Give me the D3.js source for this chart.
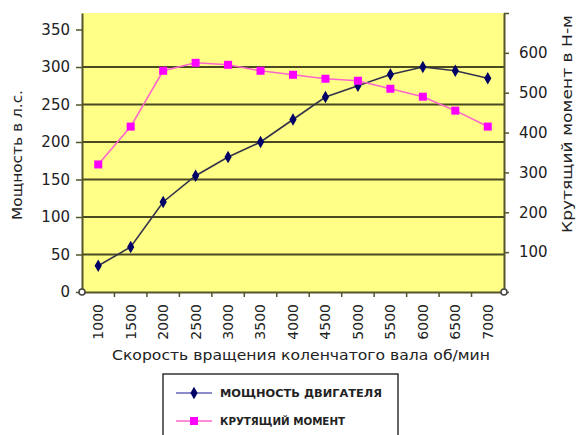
<!DOCTYPE html>
<html><head><meta charset="utf-8">
<script src="https://cdn.jsdelivr.net/npm/d3@7"></script>
<style>
body{margin:0;background:#fff;}
svg{display:block;}
text{font-family:"DejaVu Sans","Liberation Sans",Arial,sans-serif;fill:#222;}
</style></head>
<body>
<svg id="c" width="578" height="435"></svg>
<script>
const categories = ["1000","1500","2000","2500","3000","3500","4000","4500","5000","5500","6000","6500","7000"];
const powerValues = [35,60,120,155,180,200,230,260,275,290,300,295,285];
const torqueValues = [320,415,555,575,570,555,545,535,530,510,490,455,415];
const leftTicks = [0,50,100,150,200,250,300,350];
const gridTicks = [50,100,150,200,250,300];
const rightTicks = [0,100,200,300,400,500,600,700];
const rightLabels = ["0","100","200","300","400","500","600",""];
const seriesNames = ["МОЩНОСТЬ ДВИГАТЕЛЯ","КРУТЯЩИЙ МОМЕНТ"];
const xTitle = "Скорость вращения коленчатого вала об/мин";
const yLeftTitle = "Мощность в л.с.";
const yRightTitle = "Крутящий момент в Н-м";

const svg = d3.select("#c");
const L=82,R=504,T=13,B=292;
const x = d3.scaleBand().domain(categories).range([L,R]).padding(0);
const yL = d3.scaleLinear().domain([0,372]).range([B,T]);
const yR = d3.scaleLinear().domain([0,700]).range([B,T]);
const cx = c => x(c)+x.bandwidth()/2;

svg.append("rect").attr("x",L).attr("y",T).attr("width",R-L).attr("height",B-T).attr("fill","#ffff88");

// gridlines
svg.append("g").selectAll("line").data(gridTicks).join("line")
  .attr("x1",L).attr("x2",R).attr("y1",d=>yL(d)).attr("y2",d=>yL(d))
  .attr("stroke","#4a4a22").attr("stroke-width",2);

// left axis
const gl = svg.append("g").attr("transform",`translate(${L},0)`)
  .call(d3.axisLeft(yL).tickValues(leftTicks).tickSize(6).tickSizeOuter(0).tickPadding(6));
gl.select(".domain").attr("stroke","#55552a").attr("stroke-width",2);
gl.selectAll(".tick line").attr("stroke","#55552a").attr("stroke-width",1.5);
gl.selectAll(".tick text").attr("font-size",15).attr("fill","#222").attr("font-family","DejaVu Sans");

// right axis
const gr = svg.append("g").attr("transform",`translate(${R},0)`)
  .call(d3.axisRight(yR).tickValues(rightTicks).tickFormat((d,i)=>rightLabels[i]).tickSize(5).tickSizeOuter(0).tickPadding(10));
gr.select(".domain").attr("stroke","#55552a").attr("stroke-width",2);
gr.selectAll(".tick line").attr("stroke","#55552a").attr("stroke-width",1.5);
gr.selectAll(".tick text").attr("font-size",15).attr("fill","#222").attr("font-family","DejaVu Sans")
  .filter(d=>d===0).text("");

// x axis
const gx = svg.append("g").attr("transform",`translate(0,${B})`)
  .call(d3.axisBottom(x).tickSize(0).tickSizeOuter(0));
gx.select(".domain").attr("stroke","#55552a").attr("stroke-width",2);
gx.selectAll(".tick text").attr("font-size",14).attr("fill","#222").attr("font-family","DejaVu Sans")
  .attr("text-anchor","end").attr("dy","0.35em")
  .attr("transform","translate(0,12) rotate(-90)").attr("x",0).attr("y",0);
// category separator ticks
svg.append("g").selectAll("line").data(categories.slice(1)).join("line")
  .attr("x1",d=>x(d)).attr("x2",d=>x(d)).attr("y1",B).attr("y2",B+5)
  .attr("stroke","#55552a").attr("stroke-width",1.5);

// origin circles
[L,R].forEach(px=>svg.append("circle").attr("cx",px).attr("cy",B).attr("r",3)
  .attr("fill","#fff").attr("stroke","#444").attr("stroke-width",1.5));

// power series
svg.append("path").datum(powerValues)
  .attr("d",d3.line().x((d,i)=>cx(categories[i])).y(d=>yL(d)))
  .attr("fill","none").attr("stroke","#33334a").attr("stroke-width",1.6);
svg.append("g").selectAll("path").data(powerValues).join("path")
  .attr("d",d3.symbol(d3.symbolDiamond,45))
  .attr("transform",(d,i)=>`translate(${cx(categories[i])},${yL(d)})`)
  .attr("fill","#000066");

// torque series
svg.append("path").datum(torqueValues)
  .attr("d",d3.line().x((d,i)=>cx(categories[i])).y(d=>yR(d)))
  .attr("fill","none").attr("stroke","#ff66cc").attr("stroke-width",1.6);
svg.append("g").selectAll("rect").data(torqueValues).join("rect")
  .attr("x",(d,i)=>cx(categories[i])-4).attr("y",d=>yR(d)-4)
  .attr("width",8).attr("height",8).attr("fill","#ff00ff");

// titles
svg.append("text").attr("x",301).attr("y",360).attr("text-anchor","middle")
  .attr("font-size",14).attr("textLength",378).attr("lengthAdjust","spacingAndGlyphs").text(xTitle);
svg.append("text").attr("transform","translate(22,155) rotate(-90)").attr("text-anchor","middle")
  .attr("font-size",14).attr("textLength",130).attr("lengthAdjust","spacingAndGlyphs").text(yLeftTitle);
svg.append("text").attr("transform","translate(572,124) rotate(-90)").attr("text-anchor","middle")
  .attr("font-size",14).attr("textLength",218).attr("lengthAdjust","spacingAndGlyphs").text(yRightTitle);

// legend
const lg = svg.append("g");
lg.append("rect").attr("x",163).attr("y",374).attr("width",235).attr("height",70)
  .attr("fill","#fff").attr("stroke","#333").attr("stroke-width",1.5);
const legColors = [{line:"#6666bb",mark:"#000066",sym:"d"},{line:"#ff66cc",mark:"#ff00ff",sym:"s"}];
seriesNames.forEach((n,i)=>{
  const yy = 393 + i*28;
  lg.append("line").attr("x1",176).attr("x2",212).attr("y1",yy).attr("y2",yy)
    .attr("stroke",legColors[i].line).attr("stroke-width",1.6);
  if(i===0){
    lg.append("path").attr("d",d3.symbol(d3.symbolDiamond,45)).attr("transform",`translate(194,${yy})`).attr("fill",legColors[i].mark);
  } else {
    lg.append("rect").attr("x",190).attr("y",yy-4).attr("width",8).attr("height",8).attr("fill",legColors[i].mark);
  }
  lg.append("text").attr("x",220).attr("y",yy).attr("dy","0.35em").attr("font-size",11).attr("font-weight","bold")
    .attr("textLength",i===0?162:125).attr("lengthAdjust","spacingAndGlyphs").text(n);
});
</script>
</body></html>
